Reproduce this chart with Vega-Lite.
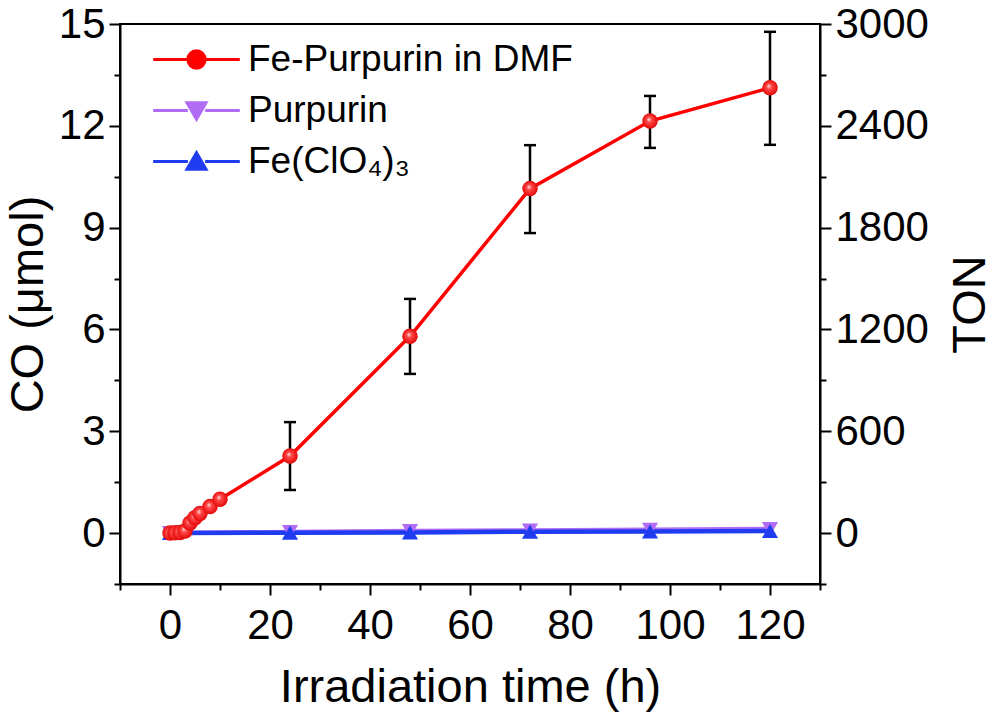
{
  "$schema": "https://vega.github.io/schema/vega-lite/v6.json",
  "width": 700,
  "height": 560,
  "autosize": {"type": "none"},
  "padding": {"left": 120, "top": 24, "right": 176, "bottom": 143},
  "background": "white",
  "config": {
    "font": "Liberation Sans",
    "view": {"stroke": "black", "strokeWidth": 2},
    "axis": {
      "grid": false,
      "domainColor": "black",
      "domainWidth": 2,
      "tickColor": "black",
      "tickWidth": 2,
      "labelColor": "black",
      "labelFont": "Liberation Sans",
      "labelFontSize": 42,
      "titleFont": "Liberation Sans",
      "titleFontSize": 47,
      "titleFontWeight": "normal",
      "titleColor": "black"
    }
  },
  "data": {
    "values": [
      {"series": "Purpurin", "time": 0, "co": 0.0},
      {"series": "Purpurin", "time": 24, "co": 0.03},
      {"series": "Purpurin", "time": 48, "co": 0.06},
      {"series": "Purpurin", "time": 72, "co": 0.08},
      {"series": "Purpurin", "time": 96, "co": 0.1},
      {"series": "Purpurin", "time": 120, "co": 0.12},
      {"series": "Fe(ClO₄)₃", "time": 0, "co": 0.0},
      {"series": "Fe(ClO₄)₃", "time": 24, "co": 0.01},
      {"series": "Fe(ClO₄)₃", "time": 48, "co": 0.02},
      {"series": "Fe(ClO₄)₃", "time": 72, "co": 0.04},
      {"series": "Fe(ClO₄)₃", "time": 96, "co": 0.05},
      {"series": "Fe(ClO₄)₃", "time": 120, "co": 0.06},
      {"series": "Fe-Purpurin in DMF", "time": 0, "co": 0.0, "ton": 0},
      {"series": "Fe-Purpurin in DMF", "time": 1, "co": 0.01, "ton": 2},
      {"series": "Fe-Purpurin in DMF", "time": 2, "co": 0.02, "ton": 4},
      {"series": "Fe-Purpurin in DMF", "time": 3, "co": 0.06, "ton": 12},
      {"series": "Fe-Purpurin in DMF", "time": 4, "co": 0.3, "ton": 60},
      {"series": "Fe-Purpurin in DMF", "time": 5, "co": 0.45, "ton": 90},
      {"series": "Fe-Purpurin in DMF", "time": 6, "co": 0.58, "ton": 116},
      {"series": "Fe-Purpurin in DMF", "time": 8, "co": 0.78, "ton": 156},
      {"series": "Fe-Purpurin in DMF", "time": 10, "co": 1.0, "ton": 200},
      {"series": "Fe-Purpurin in DMF", "time": 24, "co": 2.27, "lo": 1.27, "hi": 3.27, "ton": 454},
      {"series": "Fe-Purpurin in DMF", "time": 48, "co": 5.8, "lo": 4.69, "hi": 6.9, "ton": 1160},
      {"series": "Fe-Purpurin in DMF", "time": 72, "co": 10.15, "lo": 8.84, "hi": 11.43, "ton": 2030},
      {"series": "Fe-Purpurin in DMF", "time": 96, "co": 12.14, "lo": 11.35, "hi": 12.88, "ton": 2428},
      {"series": "Fe-Purpurin in DMF", "time": 120, "co": 13.12, "lo": 11.44, "hi": 14.77, "ton": 2624}
    ]
  },
  "layer": [
    {
      "transform": [{"filter": "datum.series === 'Purpurin'"}],
      "mark": {"type": "line", "strokeWidth": 4.5, "color": "#b06cf5"},
      "encoding": {
        "x": {
          "field": "time", "type": "quantitative",
          "scale": {"domain": [-10, 130], "nice": false, "zero": false},
          "axis": {
            "title": "Irradiation time (h)",
            "values": [-10, 0, 10, 20, 30, 40, 50, 60, 70, 80, 90, 100, 110, 120, 130],
            "labelExpr": "datum.value % 20 === 0 ? datum.label : ''",
            "tickSize": {"condition": {"test": "datum.value % 20 !== 0", "value": 6}, "value": 11},
            "labelPadding": 10,
            "titlePadding": 18
          }
        },
        "y": {
          "field": "co", "type": "quantitative",
          "scale": {"domain": [-1.5, 15], "nice": false, "zero": false},
          "axis": {
            "title": "CO (μmol)",
            "values": [-1.5, 0, 1.5, 3, 4.5, 6, 7.5, 9, 10.5, 12, 13.5, 15],
            "labelExpr": "datum.value % 3 === 0 ? datum.label : ''",
            "tickSize": {"condition": {"test": "datum.value % 3 !== 0", "value": 6}, "value": 11},
            "labelPadding": 4,
            "titlePadding": 6
          }
        },
        "order": {"field": "time", "type": "quantitative"}
      }
    },
    {
      "transform": [{"filter": "datum.series === 'Fe(ClO₄)₃'"}],
      "mark": {"type": "line", "strokeWidth": 4.5, "color": "#1f3cf0"},
      "encoding": {
        "x": {"field": "time", "type": "quantitative"},
        "y": {"field": "co", "type": "quantitative", "scale": {"domain": [-1.5, 15], "nice": false, "zero": false}, "axis": null},
        "order": {"field": "time", "type": "quantitative"}
      }
    },
    {
      "transform": [{"filter": "datum.series === 'Fe-Purpurin in DMF'"}],
      "mark": {"type": "line", "strokeWidth": 3.5, "color": "#ff0000"},
      "encoding": {
        "x": {"field": "time", "type": "quantitative"},
        "y": {"field": "co", "type": "quantitative", "scale": {"domain": [-1.5, 15], "nice": false, "zero": false}, "axis": null},
        "order": {"field": "time", "type": "quantitative"}
      }
    },
    {
      "transform": [{"filter": "datum.series === 'Purpurin'"}],
      "mark": {"type": "point", "shape": "triangle-down", "filled": true, "color": "#b06cf5", "opacity": 1, "size": 260},
      "encoding": {
        "x": {"field": "time", "type": "quantitative"},
        "y": {"field": "co", "type": "quantitative", "scale": {"domain": [-1.5, 15], "nice": false, "zero": false}, "axis": null}
      }
    },
    {
      "transform": [{"filter": "datum.series === 'Fe(ClO₄)₃'"}],
      "mark": {"type": "point", "shape": "triangle-up", "filled": true, "color": "#1f3cf0", "opacity": 1, "size": 260},
      "encoding": {
        "x": {"field": "time", "type": "quantitative"},
        "y": {"field": "co", "type": "quantitative", "scale": {"domain": [-1.5, 15], "nice": false, "zero": false}, "axis": null}
      }
    },
    {
      "transform": [{"filter": "isValid(datum.lo)"}],
      "mark": {"type": "rule", "color": "black", "strokeWidth": 2.5},
      "encoding": {
        "x": {"field": "time", "type": "quantitative"},
        "y": {"field": "lo", "type": "quantitative", "scale": {"domain": [-1.5, 15], "nice": false, "zero": false}, "axis": null},
        "y2": {"field": "hi"}
      }
    },
    {
      "transform": [{"filter": "isValid(datum.lo)"}],
      "mark": {"type": "tick", "orient": "horizontal", "color": "black", "thickness": 2.5, "size": 12, "opacity": 1},
      "encoding": {
        "x": {"field": "time", "type": "quantitative"},
        "y": {"field": "lo", "type": "quantitative", "scale": {"domain": [-1.5, 15], "nice": false, "zero": false}, "axis": null}
      }
    },
    {
      "transform": [{"filter": "isValid(datum.hi)"}],
      "mark": {"type": "tick", "orient": "horizontal", "color": "black", "thickness": 2.5, "size": 12, "opacity": 1},
      "encoding": {
        "x": {"field": "time", "type": "quantitative"},
        "y": {"field": "hi", "type": "quantitative", "scale": {"domain": [-1.5, 15], "nice": false, "zero": false}, "axis": null}
      }
    },
    {
      "transform": [{"filter": "datum.series === 'Fe-Purpurin in DMF'"}],
      "mark": {
        "type": "point", "shape": "circle", "filled": true, "opacity": 1, "size": 240,
        "fill": {
          "gradient": "radial", "x1": 0.42, "y1": 0.38, "r1": 0, "x2": 0.5, "y2": 0.5, "r2": 0.55,
          "stops": [
            {"offset": 0, "color": "#ffe6e6"},
            {"offset": 0.3, "color": "#ff4a4a"},
            {"offset": 1, "color": "#e00000"}
          ]
        }
      },
      "encoding": {
        "x": {"field": "time", "type": "quantitative"},
        "y": {"field": "co", "type": "quantitative", "scale": {"domain": [-1.5, 15], "nice": false, "zero": false}, "axis": null}
      }
    },
    {
      "transform": [{"filter": "false"}],
      "mark": {"type": "point", "filled": true, "strokeWidth": 3, "opacity": 1},
      "encoding": {
        "x": {"field": "time", "type": "quantitative"},
        "y": {"field": "co", "type": "quantitative", "scale": {"domain": [-1.5, 15], "nice": false, "zero": false}, "axis": null},
        "fill": {
          "field": "series", "type": "nominal",
          "scale": {
            "domain": ["Fe-Purpurin in DMF", "Purpurin", "Fe(ClO₄)₃"],
            "range": ["#ff0000", "#b06cf5", "#1f3cf0"]
          },
          "legend": {
            "title": null,
            "orient": "none",
            "legendX": 22,
            "legendY": 17,
            "padding": 0,
            "symbolSize": 300,
            "symbolOffset": 36,
            "symbolStrokeWidth": 3,
            "symbolOpacity": 1,
            "labelFont": "Liberation Sans",
            "labelFontSize": 37,
            "labelColor": "black",
            "labelOffset": 33,
            "labelLimit": 500,
            "rowPadding": 13
          }
        },
        "stroke": {
          "field": "series", "type": "nominal",
          "scale": {
            "domain": ["Fe-Purpurin in DMF", "Purpurin", "Fe(ClO₄)₃"],
            "range": ["#ff0000", "#b06cf5", "#1f3cf0"]
          }
        },
        "shape": {
          "field": "series", "type": "nominal",
          "scale": {
            "domain": ["Fe-Purpurin in DMF", "Purpurin", "Fe(ClO₄)₃"],
            "range": [
              "M-5,0H-1M1,0H5M1,0A1,1,0,1,1,-1,0A1,1,0,1,1,1,0Z",
              "M-5,0H-1M1,0H5M-1.1,-0.9L1.1,-0.9L0,1Z",
              "M-5,0H-1M1,0H5M-1.1,0.9L1.1,0.9L0,-1Z"
            ]
          }
        }
      }
    },
    {
      "mark": {"type": "point", "opacity": 0},
      "encoding": {
        "x": {"field": "time", "type": "quantitative"},
        "y": {
          "field": "ton", "type": "quantitative",
          "scale": {"domain": [-300, 3000], "nice": false, "zero": false},
          "axis": {
            "orient": "right",
            "title": "TON",
            "titleAngle": -90,
            "values": [-300, 0, 300, 600, 900, 1200, 1500, 1800, 2100, 2400, 2700, 3000],
            "labelExpr": "datum.value % 600 === 0 ? datum.label : ''",
            "format": "d",
            "tickSize": {"condition": {"test": "datum.value % 600 !== 0", "value": 6}, "value": 11},
            "labelPadding": 4,
            "titlePadding": 66
          }
        }
      }
    }
  ],
  "resolve": {"scale": {"y": "independent"}}
}
